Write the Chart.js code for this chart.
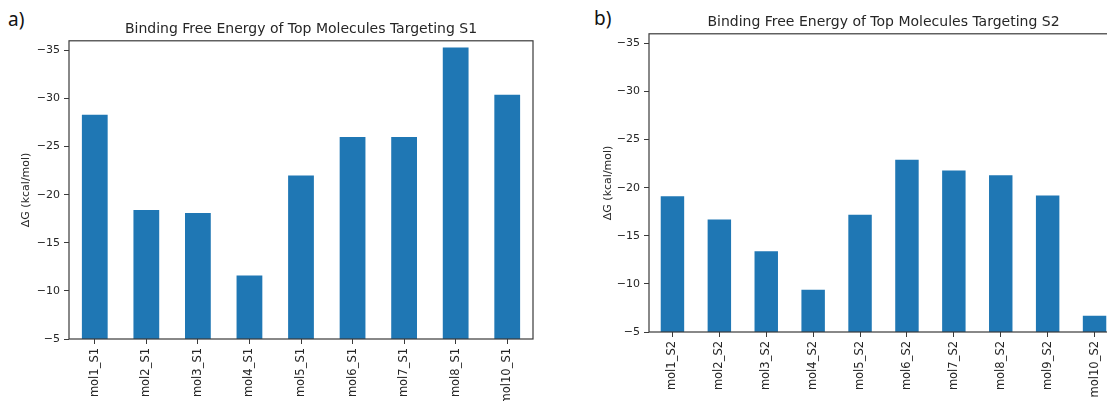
<!DOCTYPE html>
<html>
<head>
<meta charset="utf-8">
<script src="https://cdn.jsdelivr.net/npm/chart.js@4"></script>
<style>
  html, body { margin: 0; padding: 0; background: #fff; overflow: hidden; width: 1107px; height: 401px; }
  canvas { position: absolute; top: 0; }
  #chartA { left: 0; }
  #chartB { left: 560px; }
  .tag { position: absolute; font-family: 'Noto Sans', sans-serif; font-size: 19px; color: #111; line-height: 1; }
</style>
</head>
<body>
<div class="tag" style="left:8px;top:10px">a)</div>
<div class="tag" style="left:594px;top:9px">b)</div>
<canvas id="chartA" width="545" height="401"></canvas>
<canvas id="chartB" width="570" height="401"></canvas>
<script>
// Panel a — S1 targets (no mol9 in the original)
const labelsS1 = ['mol1_S1', 'mol2_S1', 'mol3_S1', 'mol4_S1', 'mol5_S1', 'mol6_S1', 'mol7_S1', 'mol8_S1', 'mol10_S1'];
const valuesS1 = [-28.3, -18.4, -18.1, -11.6, -22.0, -26.0, -26.0, -35.3, -30.4];

// Panel b — S2 targets
const labelsS2 = ['mol1_S2', 'mol2_S2', 'mol3_S2', 'mol4_S2', 'mol5_S2', 'mol6_S2', 'mol7_S2', 'mol8_S2', 'mol9_S2', 'mol10_S2'];
const valuesS2 = [-19.1, -16.7, -13.4, -9.4, -17.2, -22.9, -21.8, -21.3, -19.2, -6.7];

const yTicks = [-35, -30, -25, -20, -15, -10, -5];
const yMin = -36;
const yMax = -5;

const FONT = "'DejaVu Sans', sans-serif";
const TEXT = '#262626';
const AXIS = '#3a3a3a';
const BAR = '#1f77b4';

// matplotlib-style full box around the plot area
const framePlugin = {
  id: 'frame',
  afterDraw(chart) {
    const { ctx, chartArea: a } = chart;
    ctx.save();
    ctx.strokeStyle = AXIS;
    ctx.lineWidth = 1.2;
    ctx.strokeRect(a.left, a.top, a.right - a.left, a.bottom - a.top);
    ctx.restore();
  }
};

function makePanel(canvas, labels, values, title, opts) {
  return new Chart(canvas.getContext('2d'), {
    type: 'bar',
    data: {
      labels,
      datasets: [{
        data: values,
        backgroundColor: BAR,
        borderWidth: 0,
        barPercentage: 0.5,
        categoryPercentage: 1.0
      }]
    },
    options: {
      responsive: false,
      animation: false,
      layout: { padding: { left: 0, right: opts.padRight, top: 0, bottom: 0 } },
      plugins: {
        legend: { display: false },
        tooltip: { enabled: false },
        title: {
          display: true,
          text: title,
          fullSize: false,
          color: TEXT,
          font: { family: FONT, size: 14, weight: 'normal' },
          padding: { top: opts.titleTop, bottom: 3 }
        }
      },
      scales: {
        x: {
          offset: true,
          grid: { display: true, drawOnChartArea: false, drawTicks: true, tickLength: 5, offset: false, color: AXIS, lineWidth: 1 },
          border: { display: false },
          ticks: {
            color: TEXT,
            font: { family: FONT, size: 11.5 },
            minRotation: 90,
            maxRotation: 90,
            padding: 4,
            autoSkip: false
          },
          afterFit: s => { s.height = opts.xHeight; }
        },
        y: {
          reverse: true,
          min: yMin,
          max: yMax,
          grid: { display: true, drawOnChartArea: false, drawTicks: true, tickLength: 5, color: AXIS, lineWidth: 1 },
          border: { display: false },
          afterBuildTicks: s => { s.ticks = yTicks.map(v => ({ value: v })); },
          ticks: {
            color: TEXT,
            font: { family: FONT, size: 11 },
            padding: 4,
            callback: v => String(v).replace('-', '\u2212')
          },
          title: {
            display: true,
            text: 'ΔG (kcal/mol)',
            color: TEXT,
            font: { family: FONT, size: 11 },
            padding: { top: opts.yTitleTop, bottom: 0 }
          },
          afterFit: s => { s.width = opts.yWidth; }
        }
      }
    },
    plugins: [framePlugin]
  });
}

makePanel(document.getElementById('chartA'), labelsS1, valuesS1,
  'Binding Free Energy of Top Molecules Targeting S1',
  { padRight: 12, titleTop: 21, xHeight: 62, yWidth: 69, yTitleTop: 20 });

makePanel(document.getElementById('chartB'), labelsS2, valuesS2,
  'Binding Free Energy of Top Molecules Targeting S2',
  { padRight: 12, titleTop: 14, xHeight: 69, yWidth: 89, yTitleTop: 42 });
</script>
</body>
</html>
